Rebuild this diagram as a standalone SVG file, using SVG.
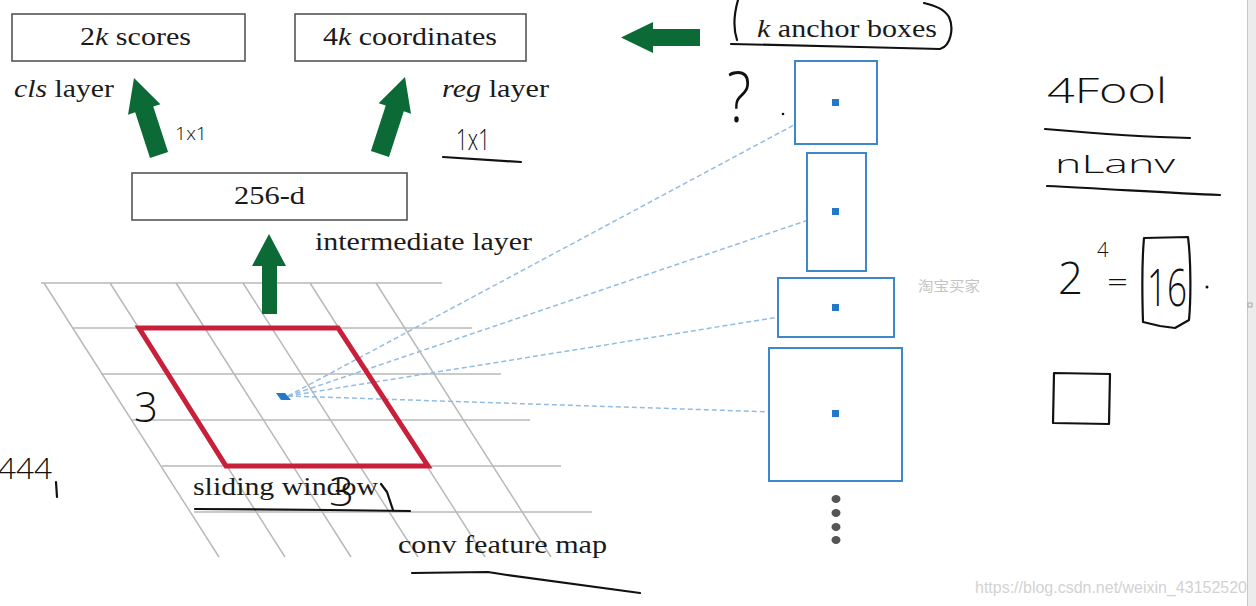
<svg xmlns="http://www.w3.org/2000/svg" width="1256" height="606" viewBox="0 0 1256 606">
<style>
.box{fill:#fff;stroke:#555;stroke-width:1.6}
.lbl{font-family:"Liberation Serif","Times New Roman",serif;font-size:26px;fill:#1a1a1a}
.grid{stroke:#b9b9b9;stroke-width:1.5;fill:none}
.arrow{fill:#0b6a36}
.anchor{fill:#fff;stroke:#3d87cb;stroke-width:2}
.ctr{fill:#2577c8}
.dash{stroke:#93bce4;stroke-width:1.5;stroke-dasharray:5 3;fill:none}
.hw{font-family:"Open Sans","Lato","DejaVu Sans",sans-serif;font-weight:300;fill:#111}
.hwl{fill:none;stroke:#111;stroke-width:2.2;stroke-linecap:round;stroke-linejoin:round}
</style>
<defs>
<path id="tiltArrow" d="M0,0 L17,33 L9.5,33 L9.5,81 L-9.5,81 L-9.5,33 L-17,33 Z"/>
</defs>
<rect width="1256" height="606" fill="#fff"/>
<rect x="1247" y="0" width="9" height="606" fill="#ececec"/>
<line x1="1247.5" y1="0" x2="1247.5" y2="606" stroke="#c8c8c8" stroke-width="1"/>
<rect x="1248" y="303" width="4" height="4" fill="none" stroke="#999" stroke-width="0.8"/>

<!-- feature map grid -->
<g id="feature-map">
<g class="grid">
<line x1="41" y1="283" x2="442" y2="283"/>
<line x1="72" y1="328" x2="472" y2="328"/>
<line x1="101" y1="374" x2="501" y2="374"/>
<line x1="131" y1="420" x2="530" y2="420"/>
<line x1="162" y1="466" x2="561" y2="466"/>
<line x1="194" y1="512" x2="592" y2="512"/>
<line x1="44" y1="283" x2="219" y2="557"/>
<line x1="110" y1="283" x2="285" y2="557"/>
<line x1="176" y1="283" x2="351" y2="557"/>
<line x1="243" y1="283" x2="418" y2="557"/>
<line x1="310" y1="283" x2="485" y2="557"/>
<line x1="376" y1="283" x2="551" y2="557"/>
</g>
</g>

<!-- connectors -->
<g id="connectors">
<line class="dash" x1="288" y1="396" x2="835" y2="103"/>
<line class="dash" x1="288" y1="396" x2="835" y2="211"/>
<line class="dash" x1="288" y1="396" x2="835" y2="308"/>
<line class="dash" x1="288" y1="396" x2="835" y2="414"/>
<use href="#tiltArrow" class="arrow" transform="translate(134,78) rotate(-18)"/>
<use href="#tiltArrow" class="arrow" transform="translate(405,77) rotate(18)"/>
<path class="arrow" d="M269,234 L286,266 L277,266 L277,314 L262,314 L262,266 L252,266 Z"/>
<path class="arrow" d="M621,37.5 L653,22 L653,29 L700,29 L700,46 L653,46 L653,53 Z"/>
</g>

<g id="sliding-window">
<polygon points="139,328 338,328 428,466 226,466" fill="none" stroke="#c8203a" stroke-width="5" stroke-linejoin="miter"/>
<polygon points="276,393 285,393 291,400 281,400" class="ctr"/>
</g>

<g id="cls-box">
<rect class="box" x="12" y="14" width="233" height="47"/>
<text class="lbl" x="80" y="45" textLength="111" lengthAdjust="spacingAndGlyphs">2<tspan font-style="italic">k</tspan> scores</text>
</g>
<g id="reg-box">
<rect class="box" x="295" y="14" width="231" height="47"/>
<text class="lbl" x="323" y="45" textLength="174" lengthAdjust="spacingAndGlyphs">4<tspan font-style="italic">k</tspan> coordinates</text>
</g>
<g id="cls-label">
<text class="lbl" x="14" y="97" textLength="100" lengthAdjust="spacingAndGlyphs"><tspan font-style="italic">cls</tspan> layer</text>
</g>
<g id="reg-label">
<text class="lbl" x="442" y="97" textLength="107" lengthAdjust="spacingAndGlyphs"><tspan font-style="italic">reg</tspan> layer</text>
</g>
<g id="intermediate-box">
<rect class="box" x="132" y="173" width="275" height="47"/>
<text class="lbl" x="234" y="204" textLength="71" lengthAdjust="spacingAndGlyphs">256-d</text>
</g>
<g id="intermediate-label">
<text class="lbl" x="315" y="250" textLength="217" lengthAdjust="spacingAndGlyphs">intermediate layer</text>
</g>
<g id="sliding-label">
<text class="lbl" x="193" y="495" textLength="185" lengthAdjust="spacingAndGlyphs">sliding window</text>
</g>
<g id="conv-label">
<text class="lbl" x="398" y="553" textLength="209" lengthAdjust="spacingAndGlyphs">conv feature map</text>
</g>
<g id="anchor-label">
<text class="lbl" x="757" y="37" textLength="180" lengthAdjust="spacingAndGlyphs"><tspan font-style="italic">k</tspan> anchor boxes</text>
</g>

<g id="anchor-boxes">
<rect class="anchor" x="795" y="61" width="82" height="83"/>
<rect class="anchor" x="807" y="153" width="59" height="118"/>
<rect class="anchor" x="778" y="278" width="116" height="59"/>
<rect class="anchor" x="769" y="348" width="133" height="133"/>
<rect class="ctr" x="832" y="99" width="7" height="7"/>
<rect class="ctr" x="832" y="208" width="7" height="7"/>
<rect class="ctr" x="832" y="304" width="7" height="7"/>
<rect class="ctr" x="832" y="410" width="7" height="7"/>
<g fill="#555">
<ellipse cx="836" cy="499" rx="4.5" ry="4"/>
<ellipse cx="836" cy="513" rx="4.5" ry="4"/>
<ellipse cx="836" cy="527" rx="4.5" ry="4"/>
<ellipse cx="836" cy="540" rx="4.5" ry="4"/>
</g>
</g>

<!-- handwritten annotations -->
<g id="annotations">
<path class="hwl" d="M738,0 C734,14 733,28 737,40"/>
<path class="hwl" d="M731,44 L860,47 L940,49 C951,46 954,28 949,17 C944,9 936,6 924,3"/>
<text class="hw" x="727" y="122" font-size="70" textLength="24" lengthAdjust="spacingAndGlyphs">?</text>
<circle cx="783" cy="114" r="1.3" fill="#111"/>
<text class="hw" x="175" y="140" font-size="19" textLength="32" lengthAdjust="spacingAndGlyphs">1x1</text>
<text class="hw" x="456" y="150" font-size="30" textLength="34" lengthAdjust="spacingAndGlyphs">1x1</text>
<path class="hwl" d="M443,157 L521,162"/>
<text class="hw" x="134" y="422" font-size="42">3</text>
<text class="hw" x="329" y="506" font-size="40" textLength="25" lengthAdjust="spacingAndGlyphs">3</text>
<path class="hwl" d="M381,484 L387,492 L393,510"/>
<path class="hwl" d="M195,509 L330,510 L410,511"/>
<path class="hwl" d="M412,573 L488,572 L507,575 L640,593"/>
<text class="hw" x="-2" y="479" font-size="30" textLength="54" lengthAdjust="spacingAndGlyphs">444</text>
<path class="hwl" d="M56,482 L57,497"/>
<text class="hw" x="1047" y="103" font-size="34" textLength="120" lengthAdjust="spacingAndGlyphs">4Fool</text>
<path class="hwl" d="M1045,129 C1090,133 1140,137 1190,138"/>
<text class="hw" x="1055" y="173" font-size="26" textLength="120" lengthAdjust="spacingAndGlyphs">nLanv</text>
<path class="hwl" d="M1047,186 C1110,189 1170,193 1220,195"/>
<text class="hw" x="1058" y="294" font-size="44" textLength="25" lengthAdjust="spacingAndGlyphs">2</text>
<text class="hw" x="1097" y="257" font-size="20">4</text>
<text class="hw" x="1107" y="291" font-size="26" textLength="21" lengthAdjust="spacingAndGlyphs">=</text>
<path class="hwl" d="M1144,238 L1188,237 C1191,260 1191,300 1189,320 L1175,328 L1160,326 L1143,322 C1142,290 1142,260 1144,238 Z"/>
<text class="hw" x="1147" y="306" font-size="52" textLength="40" lengthAdjust="spacingAndGlyphs">16</text>
<circle cx="1207" cy="287" r="1.5" fill="#111"/>
<path class="hwl" d="M1054,373 L1110,374 L1109,424 L1053,423 Z"/>
</g>

<!-- watermarks -->
<text x="918" y="291" font-family="Noto Sans CJK SC,sans-serif" font-size="14" fill="#c4c4c4" textLength="62" lengthAdjust="spacingAndGlyphs">淘宝买家</text>
<text x="975" y="593" font-family="Liberation Sans,Arial,sans-serif" font-size="16" fill="#d2d2d2" textLength="272" lengthAdjust="spacingAndGlyphs">https://blog.csdn.net/weixin_43152520</text>
</svg>
